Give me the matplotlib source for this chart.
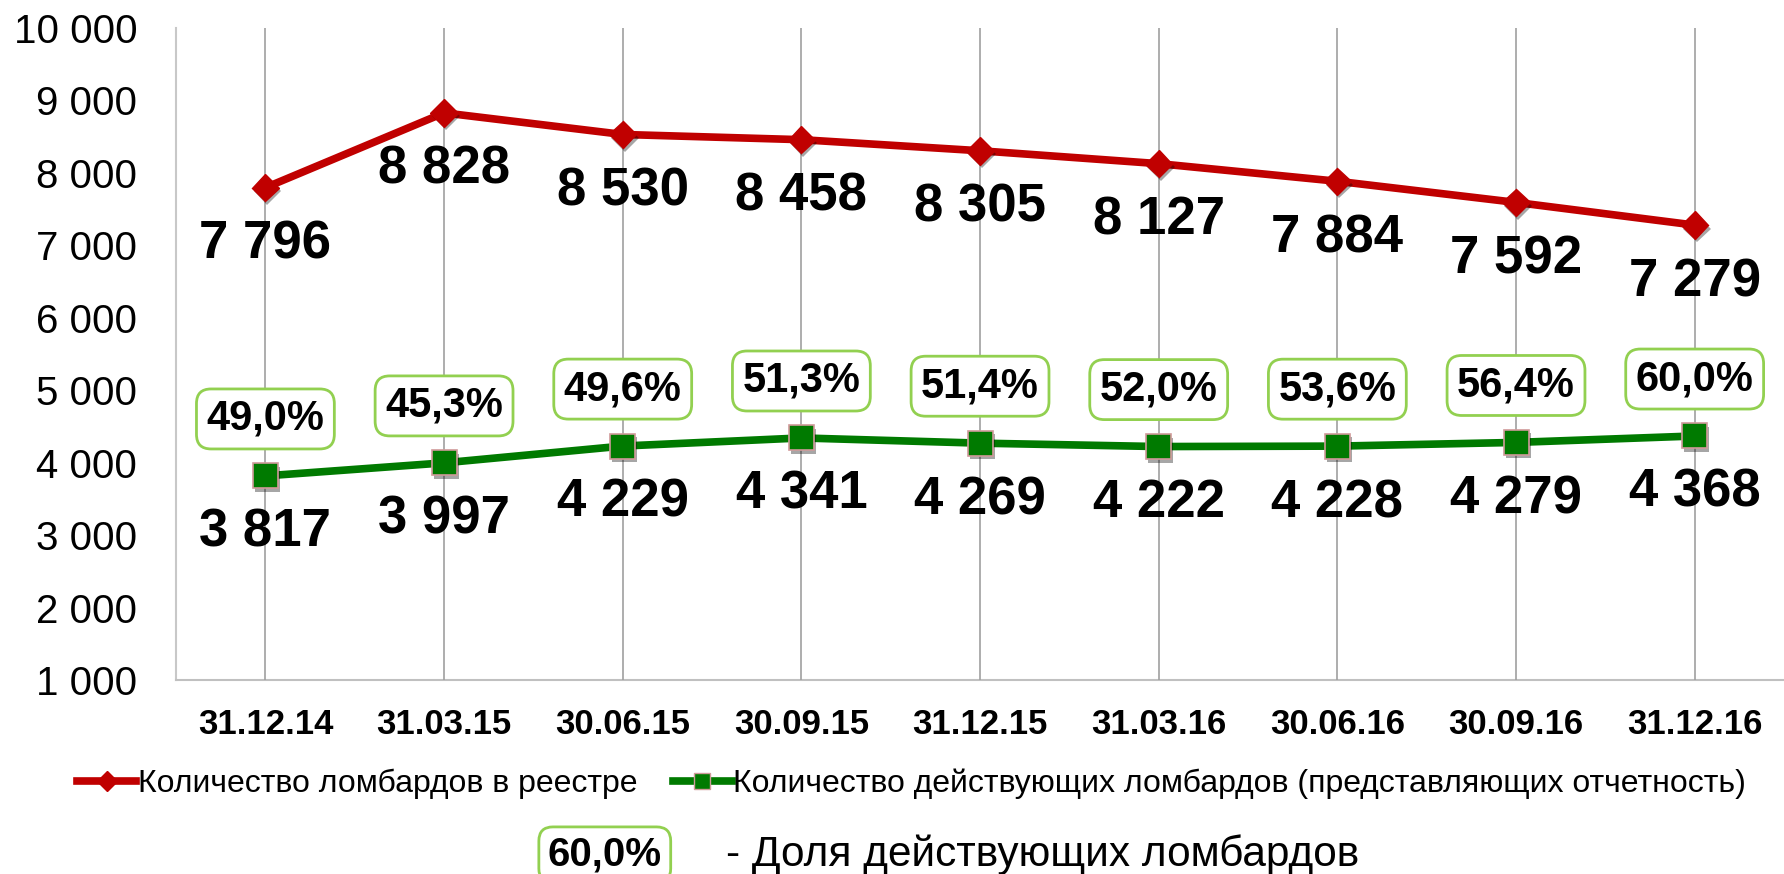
import matplotlib
matplotlib.use("Agg")
import matplotlib.pyplot as plt
import matplotlib.patheffects as pe
from matplotlib.ticker import FuncFormatter

plt.rcParams['font.family'] = ['Liberation Sans', 'DejaVu Sans']

dates = ["31.12.14", "31.03.15", "30.06.15", "30.09.15", "31.12.15",
         "31.03.16", "30.06.16", "30.09.16", "31.12.16"]
registry = [7796, 8828, 8530, 8458, 8305, 8127, 7884, 7592, 7279]
active = [3817, 3997, 4229, 4341, 4269, 4222, 4228, 4279, 4368]
share = ["49,0%", "45,3%", "49,6%", "51,3%", "51,4%", "52,0%", "53,6%", "56,4%", "60,0%"]

RED = "#C00000"
GREEN = "#007A00"
BOX_EDGE = "#92D050"

fig = plt.figure(figsize=(17.84, 8.74), dpi=100)
ax = fig.add_axes([0.0987, 0.222, 0.9013, 0.746])

x = list(range(len(dates)))
shadow = [pe.SimplePatchShadow(offset=(1.5, -2.5), alpha=0.35, shadow_rgbFace="black"), pe.Normal()]

ax.plot(x, registry, color=RED, lw=5.5, zorder=3, solid_capstyle="round")
ax.plot(x, active, color=GREEN, lw=5.5, zorder=3, solid_capstyle="round")
ax.plot(x, registry, ls="none", marker="D", ms=14, color=RED, mec=RED, zorder=4,
        path_effects=shadow)
ax.plot(x, active, ls="none", marker="s", ms=18, color=GREEN, mec="#D09A9A", mew=1.2,
        zorder=4, path_effects=shadow)

# proxies for legend
ax.plot([], [], color=RED, lw=5.5, marker="D", ms=10, mec=RED,
        label="Количество ломбардов в реестре")
ax.plot([], [], color=GREEN, lw=5.5, marker="s", ms=12, mec="#D09A9A",
        label="Количество действующих ломбардов (представляющих отчетность)")

for i in x:
    ax.annotate(f"{registry[i]:,}".replace(",", " "), (i, registry[i]),
                xytext=(0, -41), textcoords="offset points", ha="center", va="center",
                fontsize=38, fontweight="bold", zorder=6)
    ax.annotate(f"{active[i]:,}".replace(",", " "), (i, active[i]),
                xytext=(0, -41), textcoords="offset points", ha="center", va="center",
                fontsize=38, fontweight="bold", zorder=6)
    ax.annotate(share[i], (i, active[i]),
                xytext=(0, 41), textcoords="offset points", ha="center", va="center",
                fontsize=30, fontweight="bold", zorder=6,
                bbox=dict(boxstyle="round,pad=0.24,rounding_size=0.35", fc="white",
                          ec=BOX_EDGE, lw=2))

ax.set_xlim(-0.5, len(dates) - 0.5)
ax.set_ylim(1000, 10000)
ax.set_yticks(range(1000, 10001, 1000))
ax.yaxis.set_major_formatter(FuncFormatter(lambda v, p: f"{int(v):,}".replace(",", " ")))
ax.set_xticks(x)
ax.set_xticklabels(dates, fontsize=25, fontweight="bold")
ax.tick_params(axis="y", length=0, pad=28, labelsize=29)
ax.tick_params(axis="x", length=0, pad=20)

ax.grid(axis="x", color="#A0A0A0", lw=1.2, zorder=5)
ax.set_axisbelow(False)
for s in ["top", "right"]:
    ax.spines[s].set_visible(False)
ax.spines["left"].set_color("#C8C8C8")
ax.spines["bottom"].set_color("#C0C0C0")
ax.spines["left"].set_linewidth(1.5)
ax.spines["bottom"].set_linewidth(1.5)

fig.legend(loc="center", bbox_to_anchor=(0.511, 0.103), ncol=2, frameon=False,
           fontsize=23, handlelength=1.85, handletextpad=0.05, columnspacing=1.1)

fig.text(0.339, 0.022, "60,0%", ha="center", va="center", fontsize=29, fontweight="bold",
         bbox=dict(boxstyle="round,pad=0.22,rounding_size=0.35", fc="white", ec=BOX_EDGE, lw=2))
fig.text(0.407, 0.022, "- Доля действующих ломбардов", ha="left", va="center", fontsize=30.5)

fig.savefig("out.png", dpi=100)
